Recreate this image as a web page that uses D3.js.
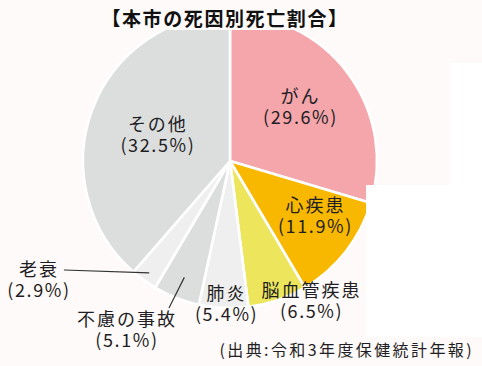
<!DOCTYPE html>
<html><head><meta charset="utf-8">
<script src="https://cdn.jsdelivr.net/npm/d3@7/dist/d3.min.js"></script>
<style>
html,body{margin:0;padding:0;background:#fefaf9;}
svg{display:block;}
text{font-family:"Noto Sans CJK JP","Noto Sans",sans-serif;}
</style></head>
<body>
<svg id="chart" width="482" height="366"></svg>
<script>
const title = "【本市の死因別死亡割合】";
const source = "(出典:令和3年度保健統計年報)";
const categories = ["がん","心疾患","脳血管疾患","肺炎","不慮の事故","老衰","その他"];
const values = [29.6, 11.9, 6.5, 5.4, 5.1, 2.9, 32.5];
const colors = ["#f4a6ab","#f8b800","#ede65c","#efefef","#dcdddd","#efefef","#dcdddd"];

// layout (not data)
const W = 482, H = 366, cx = 230, cy = 161, R = 147;
const labelLayout = {
  "がん":      {r: 88,  dx: 0,  dy: 0},
  "心疾患":    {r: 102, dx: 5,  dy: -6},
  "脳血管疾患": {r: 150, dx: 33, dy: 0},
  "肺炎":      {r: 145, dx: 3,  dy: 0},
  "不慮の事故": {r: 125, line: [-15.4, 30.6], text: [-57.4, 54.6]},
  "老衰":      {r: 138, line: [-85.3, -2.9], text: [-110.3, 9.1]},
  "その他":    {r: 77,  dx: 0,  dy: 3}
};

const svg = d3.select("#chart");
svg.append("rect").attr("width", W).attr("height", H).attr("fill", "#fefaf9");

const ang = d3.scaleLinear().domain([0, 100]).range([0, 2 * Math.PI]);
let cum = 0;
const slices = categories.map((c, i) => {
  const s = ang(cum);
  cum += values[i];
  const e = i === categories.length - 1 ? 2 * Math.PI : ang(cum);
  return {cat: c, value: values[i], color: colors[i], startAngle: s, endAngle: e};
});

const arc = d3.arc().innerRadius(0).outerRadius(R);
const g = svg.append("g").attr("transform", `translate(${cx},${cy})`);
g.selectAll("path").data(slices).join("path")
  .attr("d", arc)
  .attr("fill", d => d.color)
  .attr("stroke", "#ffffff")
  .attr("stroke-width", 2.6)
  .attr("stroke-linejoin", "round");

// white panels overlapping the chart
svg.append("rect").attr("x", 450).attr("y", 63).attr("width", 32).attr("height", 122).attr("fill", "#ffffff");
svg.append("rect").attr("x", 366).attr("y", 185).attr("width", 116).attr("height", 152).attr("fill", "#ffffff");
// title band
svg.append("rect").attr("x", 90).attr("y", 0).attr("width", 280).attr("height", 30).attr("fill", "#fefaf9");
svg.append("text").attr("x", 225).attr("y", 21)
  .attr("text-anchor", "middle").attr("dominant-baseline", "middle")
  .attr("font-size", 19).attr("font-weight", "bold").attr("letter-spacing", 1.6)
  .attr("fill", "#111").text(title);

const lab = svg.append("g");
slices.forEach(d => {
  const L = labelLayout[d.cat];
  const mid = (d.startAngle + d.endAngle) / 2;
  const px = cx + L.r * Math.sin(mid), py = cy - L.r * Math.cos(mid);
  let tx, ty;
  if (L.line) {
    lab.append("line").attr("x1", px).attr("y1", py)
      .attr("x2", px + L.line[0]).attr("y2", py + L.line[1])
      .attr("stroke", "#333").attr("stroke-width", 1.2);
    tx = px + L.text[0]; ty = py + L.text[1];
  } else {
    tx = px + L.dx; ty = py + L.dy;
  }
  lab.append("text").attr("text-anchor", "middle").attr("dominant-baseline", "middle")
    .attr("x", tx).attr("y", ty - 10.5)
    .attr("font-size", 18).attr("letter-spacing", 2).attr("fill", "#1e1e24").text(d.cat);
  lab.append("text").attr("text-anchor", "middle").attr("dominant-baseline", "middle")
    .attr("x", tx).attr("y", ty + 10.5)
    .attr("font-size", 18).attr("letter-spacing", 1.6).attr("fill", "#1e1e24").text(`(${d.value}%)`);
});

svg.append("text").attr("x", 474).attr("y", 352)
  .attr("text-anchor", "end").attr("dominant-baseline", "middle")
  .attr("font-size", 16).attr("letter-spacing", 2.4).attr("fill", "#1e1e24").text(source);
</script>
</body></html>
